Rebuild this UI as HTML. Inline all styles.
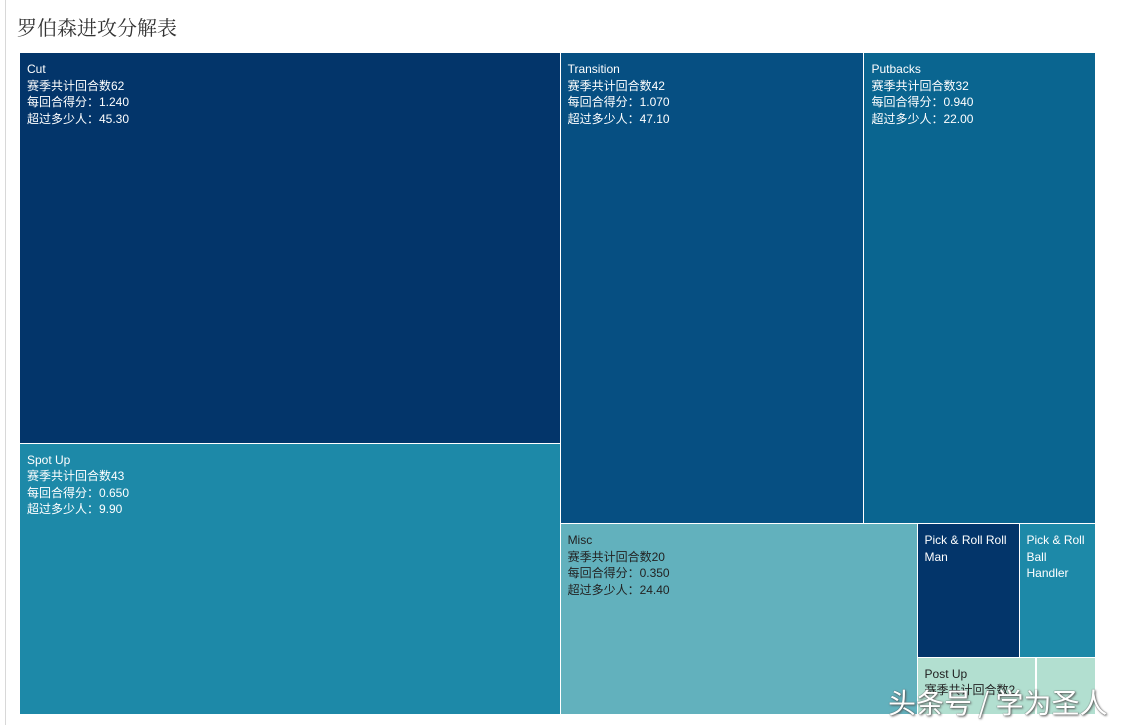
<!DOCTYPE html>
<html><head><meta charset="utf-8">
<style>
body{margin:0;background:#fff;width:1125px;height:725px;overflow:hidden;position:relative;font-family:"Liberation Sans","Noto Sans CJK SC",sans-serif}
#bar{position:absolute;left:5px;top:0;width:1px;height:725px;background:#d8d8d8}
#title{position:absolute;left:17px;top:12px;font-size:20px;color:#333;font-family:"Liberation Serif","Noto Serif CJK SC",serif}
#tm{position:absolute;left:0;top:0}
.cell{position:absolute;box-sizing:border-box;font-size:12px;line-height:16.5px;padding:8px 7px;overflow:hidden}
#wm{position:absolute;left:888px;top:682px;font-size:28px;color:#fff;text-shadow:1px 1px 2px #555,0 0 1px #333;font-family:"Noto Sans CJK SC",sans-serif}
</style></head><body>
<div id="bar"></div>
<div id="title">罗伯森进攻分解表</div>
<div id="tm"></div>
<div id="wm">头条号 / 学为圣人</div>
<script>
const names=["Cut","Spot Up","Transition","Putbacks","Misc","Pick & Roll Roll Man","Pick & Roll Ball Handler","Post Up","Other"];
const possessions=[62,43,42,32,20,4,3,2,1];
const ppp=["1.240","0.650","1.070","0.940","0.350","","","",""];
const pct=["45.30","9.90","47.10","22.00","24.40","","","",""];
const colors=["#03356a","#1d89a8","#064f82","#0a6590","#62b1bd","#03356a","#1d89a8","#b2dfd0","#b2dfd0"];
const dark=[false,false,false,false,true,false,false,true,true];
// layout structure: h = split horizontally (children side by side), v = stacked
const tree={d:'h',c:[{d:'v',c:[0,1]},{d:'v',c:[{d:'h',c:[2,3]},{d:'h',c:[4,{d:'v',c:[{d:'h',c:[5,6]},{d:'h',c:[7,8]}]}]}]}]};
function sum(n){return typeof n==='number'?possessions[n]:n.c.reduce((a,b)=>a+sum(b),0);}
const tm=document.getElementById('tm');
function lay(n,x,y,w,h){
  if(typeof n==='number'){draw(n,x,y,w,h);return;}
  const t=sum(n);let off=0;
  n.c.forEach(ch=>{const f=sum(ch)/t;
    if(n.d==='h'){lay(ch,x+off,y,w*f,h);off+=w*f;}else{lay(ch,x,y+off,w,h*f);off+=h*f;}});
}
function draw(i,x,y,w,h){
  const el=document.createElement('div');
  
  
  el.className='cell';
  el.style.left=x+'px';el.style.top=y+'px';el.style.width=w+'px';el.style.height=h+'px';
  el.style.background=colors[i];el.style.color=dark[i]?'#222':'#fff';
  el.style.borderRight='1px solid #fff';el.style.borderBottom='1px solid #fff';
  let html='';
  if(i<5){html=names[i]+'<br>赛季共计回合数'+possessions[i]+'<br>每回合得分：'+ppp[i]+'<br>超过多少人：'+pct[i];}
  else if(i===7){html=names[i]+'<br>赛季共计回合数'+possessions[i];}
  else if(i<7){html=names[i];}
  el.innerHTML=html;
  tm.appendChild(el);
}
lay(tree,20,53,1076,662);
</script>
</body></html>
